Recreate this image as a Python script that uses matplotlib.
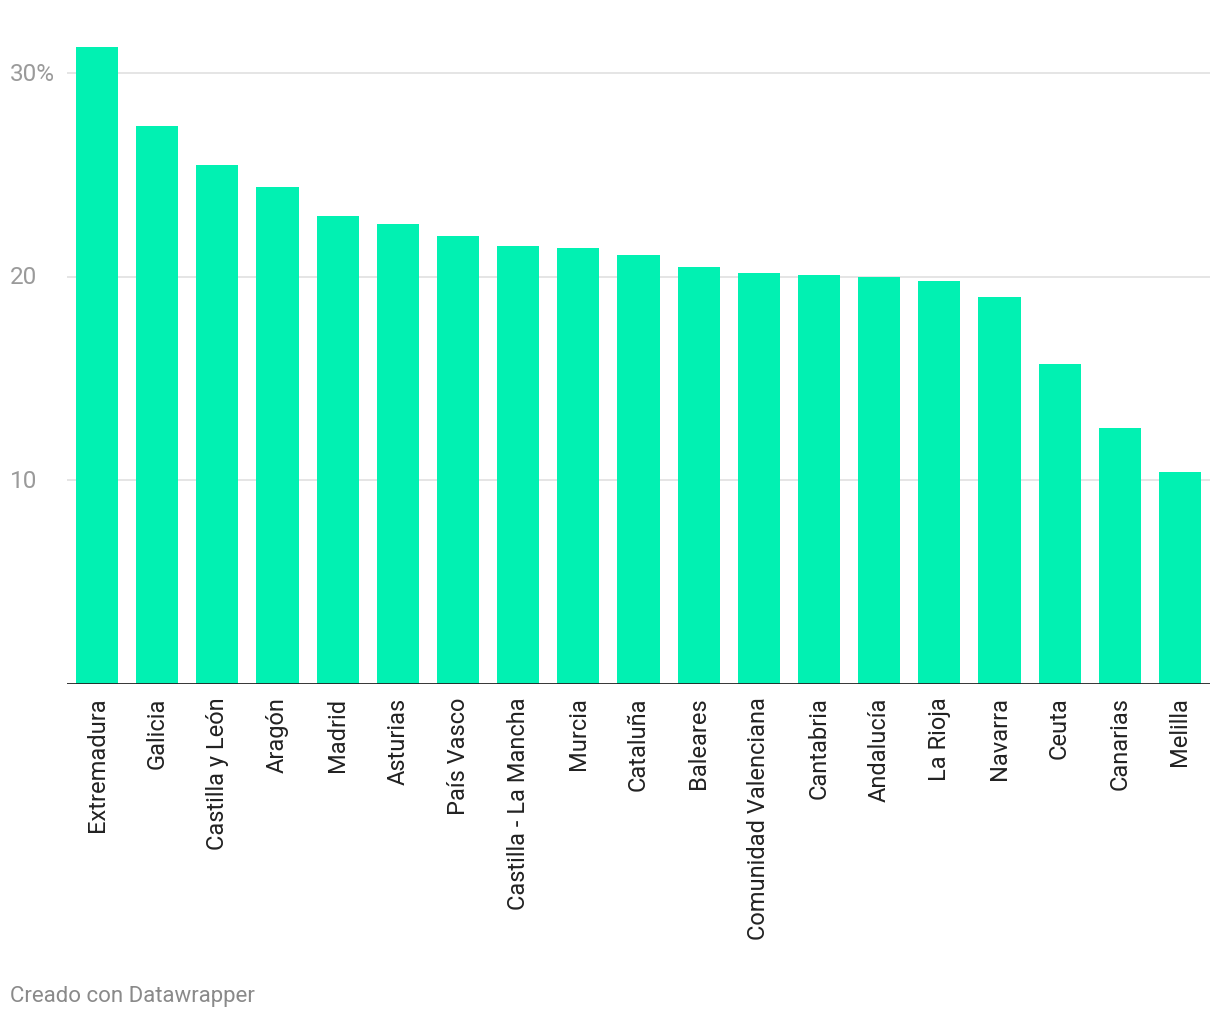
import matplotlib.pyplot as plt

regions = ["Extremadura", "Galicia", "Castilla y León", "Aragón", "Madrid",
           "Asturias", "País Vasco", "Castilla - La Mancha", "Murcia", "Cataluña",
           "Baleares", "Comunidad Valenciana", "Cantabria", "Andalucía", "La Rioja",
           "Navarra", "Ceuta", "Canarias", "Melilla"]
values = [31.3, 27.4, 25.5, 24.4, 23.0, 22.6, 22.0, 21.5, 21.4, 21.1,
          20.5, 20.2, 20.1, 20.0, 19.8, 19.0, 15.7, 12.6, 10.4]
yticks = [10, 20, 30]
ytick_labels = ["10", "20", "30%"]

plt.rcParams['font.family'] = ['Roboto', 'DejaVu Sans']

fig = plt.figure(figsize=(12.2, 10.2), dpi=100)
ax = fig.add_axes([67 / 1220, 1 - 685 / 1020, 1143 / 1220, 637 / 1020])

x = range(len(regions))
ax.bar(x, values, width=0.7, color='#01f1b2', zorder=2)
ax.set_xlim(-0.5, len(regions) - 0.5)
ax.set_ylim(0, 31.3)

for t, lab in zip(yticks, ytick_labels):
    ax.axhline(t, color='#e3e3e3', lw=1.3, zorder=1)
    ax.text(-57 / 1143, t, lab, transform=ax.get_yaxis_transform(),
            ha='left', va='center', fontsize=17.5, color='#9a9a9a')

ax.axhline(0, color='#222222', lw=2, zorder=3)
for s in ax.spines.values():
    s.set_visible(False)
ax.set_yticks([])
ax.set_xticks(list(x))
ax.set_xticklabels(regions, rotation=90, fontsize=17, color='#222222')
ax.tick_params(axis='x', length=0, pad=9)

fig.text(10 / 1220, 1 - 997 / 1020, "Creado con Datawrapper", ha='left', va='center',
         fontsize=16, color='#8a8a8a')

fig.savefig('out.png', dpi=100)
